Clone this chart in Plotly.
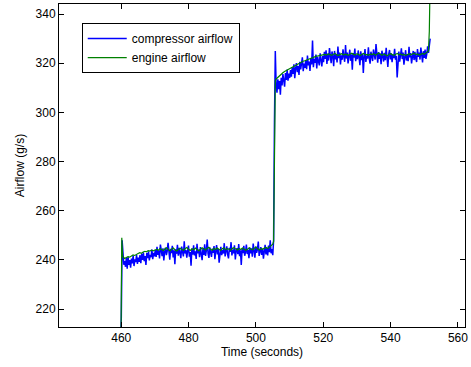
import numpy as np
import plotly.graph_objects as go

# ---------------- data ----------------
# compressor airflow (blue), g/s; segments sampled uniformly between start/end times
blue_lead_t = [459.75, 460.0, 460.25, 460.5, 460.75]
blue_lead_v = [205.0, 216.0, 248.0, 241.0, 238.0]

blue_seg1_span = (461.0, 505.0)
blue_seg1_v = [
    239.5, 237.2, 240.8, 236.4, 241.2, 238.0, 239.9, 236.8, 240.5, 238.6, 241.8, 237.5, 240.2, 239.1, 242.0, 238.4, 240.9,
    239.2, 241.9, 238.7, 242.4, 240.0, 243.1, 239.5, 241.6, 237.9, 242.8, 240.7, 243.5, 239.8, 242.0, 241.1, 244.2, 240.3, 242.9, 241.4,
    244.1, 241.2, 245.3, 242.0, 243.8, 240.6, 246.2, 242.9, 241.5, 244.7, 239.8, 243.3, 245.0, 241.9,
    243.6, 246.9, 242.2, 240.1, 244.5, 242.8, 245.7, 241.0, 243.9, 238.2, 244.3, 242.5, 246.1, 241.7,
    244.9, 242.3, 240.7, 245.4, 243.1, 241.4, 247.6, 242.6, 244.0, 240.9, 243.7, 245.8, 241.3, 243.2,
    237.6, 244.6, 242.1, 245.9, 241.8, 243.5, 240.4, 246.5, 242.7, 244.2, 241.1, 245.2, 242.4, 239.9,
    244.8, 242.0, 246.3, 241.6, 243.9, 248.3, 242.5, 240.8, 245.1, 243.0, 241.2, 244.6, 242.9, 245.6,
    240.3, 243.4, 246.0, 242.2, 244.4, 238.9, 243.8, 245.3, 241.9, 244.0, 242.6, 246.8, 241.4, 243.7,
    245.5, 242.1, 240.6, 244.9, 243.3, 247.2, 241.8, 244.2, 242.7, 245.9, 240.2, 243.6, 244.8, 242.3,
    246.4, 241.5, 243.9, 237.9, 244.5, 242.8, 245.7, 241.7, 243.2, 246.2, 242.4, 244.1, 240.7, 245.0,
    242.6, 244.7, 241.3, 246.6, 243.0, 240.9, 245.4, 242.9, 244.3, 247.5, 241.6, 243.8, 245.2, 242.0,
    244.6, 240.5, 243.5, 246.1, 242.2, 244.9, 241.8, 245.8, 243.1, 248.0, 242.7, 244.4, 241.9,
]

blue_jump_t = [505.25, 505.5, 505.75]
blue_jump_v = [248.0, 296.0, 325.0]

blue_seg2_span = (506.0, 551.25)
blue_seg2_v = [
    311.2, 308.0, 313.5, 309.4, 312.8, 307.2, 314.1, 311.0, 315.6, 312.3, 310.5, 316.0, 313.2, 317.4, 312.9, 315.8, 314.0,
    317.2, 314.5, 318.3, 315.7, 319.6, 313.9, 317.8, 320.1, 316.4, 318.9, 315.2, 320.6, 317.5, 319.3, 322.4, 316.8, 319.9,
    318.1, 321.3, 317.6, 323.1, 319.2, 320.7, 316.9, 322.0, 319.5, 329.2, 318.4, 321.8, 320.2, 323.5, 317.9, 322.6, 320.9,
    319.1, 324.0, 321.2, 318.7, 322.9,
    320.4, 324.6, 321.8, 325.3, 319.7, 323.9, 321.1, 326.2, 322.5, 320.0, 324.8, 322.9, 318.8, 325.0,
    321.6, 323.7, 320.3, 326.8, 322.1, 324.4, 319.5, 323.2, 321.4, 325.7, 322.7, 320.6, 327.4, 321.9,
    324.3, 319.9, 322.8, 325.5, 321.0, 323.6, 317.4, 324.1, 322.3, 326.0, 320.8, 323.4, 321.7, 325.2,
    322.4, 319.2, 324.9, 321.3, 323.8, 316.0, 322.6, 325.8, 320.5, 323.1, 321.9, 326.5, 322.0, 319.8,
    324.7, 322.2, 320.9, 325.6, 323.3, 321.5, 327.8, 322.8, 320.2, 324.5, 321.8, 323.9, 319.6, 325.1,
    322.5, 320.7, 324.2, 321.2, 326.3, 322.9, 318.5, 323.7, 325.4, 321.6, 324.0, 320.4, 323.5, 322.1,
    325.9, 321.4, 323.0, 314.2, 322.7, 324.8, 320.6, 323.3, 326.1, 321.7, 324.4, 319.4, 322.9, 325.3,
    321.1, 323.6, 320.8, 326.7, 322.4, 324.1, 319.9, 323.2, 325.0, 321.3, 324.6, 322.0, 320.5, 325.8,
    322.6, 324.3, 321.5, 326.4, 323.4, 320.3, 324.9, 322.2, 325.6, 321.8, 323.7, 326.9, 324.2,
]

blue_end_t = [551.5, 551.75]
blue_end_v = [327.5, 330.0]

# engine airflow (green), g/s
green_lead_t = [459.9, 460.15, 460.4]
green_lead_v = [205.0, 249.0, 241.5]

green_seg1_span = (461.0, 505.0)
green_seg1_v = [
    240.6, 241.0, 241.3, 241.1, 241.7, 242.0, 241.8, 242.4, 242.6,
    242.9, 242.7, 243.2, 243.5, 243.3, 243.8, 243.6, 244.0, 243.7, 244.1,
    244.3, 243.9, 244.6, 244.2, 243.8, 244.5, 244.9, 244.1, 243.7, 244.4, 244.8, 244.0, 243.6, 244.3,
    244.7, 244.2, 243.9, 244.6, 245.0, 244.3, 243.8, 244.5, 244.1, 244.8, 244.4, 243.7, 244.2, 244.9,
    244.5, 244.0, 244.6, 245.1, 244.3, 243.9, 244.7, 244.2, 244.8, 244.4, 243.8, 244.5, 244.9, 244.1,
    244.6, 244.3, 243.9, 244.7, 245.0, 244.4, 244.0, 244.6, 244.2, 244.8, 244.5, 243.9, 244.3, 244.9,
    244.4, 244.1, 244.7, 245.2, 244.5, 244.0, 244.6, 244.3, 244.8, 245.1, 244.6, 245.3, 245.8, 246.4,
]

green_jump_t = [505.25, 505.5, 505.75]
green_jump_v = [247.5, 298.0, 313.0]

green_seg2_span = (506.0, 551.0)
green_seg2_v = [
    313.6, 314.3, 315.0, 315.4, 316.1, 316.6, 317.0, 317.5, 317.9,
    318.3, 318.6, 319.0, 319.4, 319.7, 320.1, 320.4, 320.8, 321.0, 321.3,
    321.6, 321.9, 322.1, 322.4, 322.6, 322.9, 323.0, 323.2, 323.1, 323.4,
    323.6, 323.3, 323.8, 323.5, 323.2, 323.7, 324.0, 323.4, 323.1, 323.6, 323.9, 323.3, 323.7, 323.5,
    323.2, 323.8, 324.1, 323.6, 323.3, 323.9, 323.5, 323.1, 323.7, 324.0, 323.4, 323.6, 323.2, 323.8,
    323.5, 323.9, 323.3, 323.7, 324.2, 323.6, 323.2, 323.8, 323.4, 323.0, 323.6, 323.9, 323.5, 323.2,
    323.7, 324.0, 323.4, 323.8, 323.3, 323.6, 323.1, 323.7, 323.9, 323.4, 323.6, 324.1, 323.5, 323.8,
    323.3, 323.7, 324.0, 323.6, 324.2, 324.6,
]

green_end_t = [551.25, 551.5, 551.75]
green_end_v = [325.0, 333.0, 355.0]

x_ticks = [460, 480, 500, 520, 540, 560]
y_ticks = [220, 240, 260, 280, 300, 320, 340]
x_range = [441.5, 562.1]
y_range = [212.7, 344.1]


def seg_times(span, vals):
    return list(np.linspace(span[0], span[1], len(vals)))


blue_t = (blue_lead_t + seg_times(blue_seg1_span, blue_seg1_v) + blue_jump_t
          + seg_times(blue_seg2_span, blue_seg2_v) + blue_end_t)
blue_v = blue_lead_v + blue_seg1_v + blue_jump_v + blue_seg2_v + blue_end_v

green_t = (green_lead_t + seg_times(green_seg1_span, green_seg1_v) + green_jump_t
           + seg_times(green_seg2_span, green_seg2_v) + green_end_t)
green_v = green_lead_v + green_seg1_v + green_jump_v + green_seg2_v + green_end_v

FONT = "Liberation Sans, Arial, sans-serif"

fig = go.Figure()
fig.add_trace(go.Scatter(x=blue_t, y=blue_v, mode="lines", name="compressor airflow",
                         line=dict(color="#0000FF", width=1.5)))
fig.add_trace(go.Scatter(x=green_t, y=green_v, mode="lines", name="engine airflow",
                         line=dict(color="#008000", width=1.2)))

axis_common = dict(showline=True, linecolor="black", linewidth=1, mirror="ticks",
                   ticks="inside", ticklen=5, tickcolor="black", showgrid=False,
                   zeroline=False, ticklabeloverflow="allow",
                   tickfont=dict(family=FONT, size=12, color="black"))

fig.update_layout(
    width=471, height=367,
    margin=dict(l=59, r=3, t=4, b=40),
    paper_bgcolor="white", plot_bgcolor="white",
    font=dict(family=FONT, size=12, color="black"),
    xaxis=dict(range=x_range, tickvals=x_ticks,
               title=dict(text="Time (seconds)", font=dict(family=FONT, size=12), standoff=2),
               **axis_common),
    yaxis=dict(range=y_range, tickvals=y_ticks,
               title=dict(text="Airflow (g/s)", font=dict(family=FONT, size=12), standoff=8),
               **axis_common),
    legend=dict(x=0.056, y=0.941, xanchor="left", yanchor="top",
                bgcolor="white", bordercolor="black", borderwidth=1,
                font=dict(family=FONT, size=12, color="black"),
                itemwidth=39, tracegroupgap=0, itemclick=False),
    showlegend=True,
)

fig.write_html("out.html")
